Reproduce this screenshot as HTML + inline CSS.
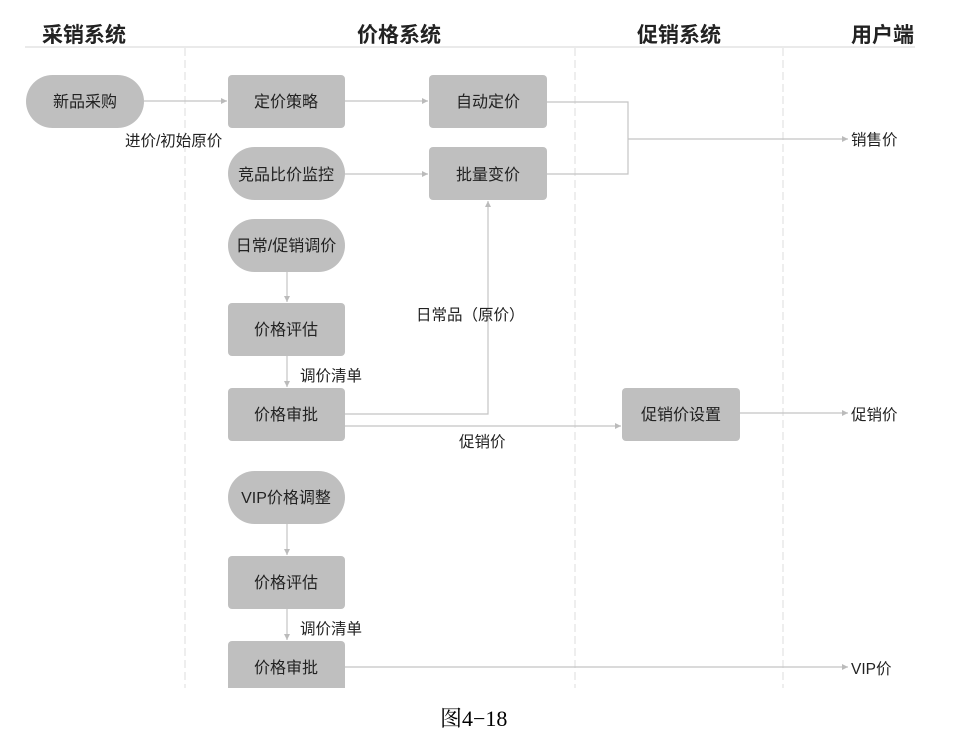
<!DOCTYPE html>
<html><head><meta charset="utf-8"><style>
html,body{margin:0;padding:0;background:#fff;}
svg text{font-family:"Liberation Sans","Noto Sans CJK SC",sans-serif;fill:#222;}
</style></head><body>
<svg width="966" height="735" viewBox="0 0 966 735" xmlns="http://www.w3.org/2000/svg">
<defs><marker id="a" markerWidth="8" markerHeight="8" refX="7" refY="4" orient="auto" markerUnits="userSpaceOnUse"><path d="M1,1 L7,4 L1,7 z" fill="#bbb"/></marker></defs>
<g font-size="21" font-weight="bold" fill="#222">
<text x="42" y="42">采销系统</text>
<text x="357" y="42">价格系统</text>
<text x="637" y="42">促销系统</text>
<text x="851" y="42">用户端</text>
</g>
<line x1="25" y1="47" x2="915" y2="47" stroke="#ddd" stroke-width="1.2"/>
<g stroke="#ddd" stroke-dasharray="8,4" stroke-width="1">
<line x1="185" y1="48" x2="185" y2="688"/>
<line x1="575" y1="48" x2="575" y2="688"/>
<line x1="783" y1="48" x2="783" y2="688"/>
</g>
<g stroke="#c4c4c4" stroke-width="1.2" fill="none">
<line x1="144" y1="101" x2="227" y2="101" marker-end="url(#a)"/>
<line x1="345" y1="101" x2="428" y2="101" marker-end="url(#a)"/>
<line x1="345" y1="174" x2="428" y2="174" marker-end="url(#a)"/>
<polyline points="547,102 628,102 628,174 547,174"/>
<line x1="628" y1="139" x2="848" y2="139" marker-end="url(#a)"/>
<line x1="287" y1="272" x2="287" y2="302" marker-end="url(#a)"/>
<line x1="287" y1="356" x2="287" y2="387" marker-end="url(#a)"/>
<polyline points="345,414 488,414 488,201" marker-end="url(#a)"/>
<line x1="345" y1="426" x2="621" y2="426" marker-end="url(#a)"/>
<line x1="740" y1="413" x2="848" y2="413" marker-end="url(#a)"/>
<line x1="287" y1="524" x2="287" y2="555" marker-end="url(#a)"/>
<line x1="287" y1="609" x2="287" y2="640" marker-end="url(#a)"/>
<line x1="345" y1="667" x2="848" y2="667" marker-end="url(#a)"/>
</g>
<g fill="#bfbfbf">
<rect x="26" y="75" width="118" height="53" rx="26.5"/>
<rect x="228" y="75" width="117" height="53" rx="4"/>
<rect x="429" y="75" width="118" height="53" rx="4"/>
<rect x="228" y="147" width="117" height="53" rx="26.5"/>
<rect x="429" y="147" width="118" height="53" rx="4"/>
<rect x="228" y="219" width="117" height="53" rx="26.5"/>
<rect x="228" y="303" width="117" height="53" rx="4"/>
<rect x="228" y="388" width="117" height="53" rx="4"/>
<rect x="622" y="388" width="118" height="53" rx="4"/>
<rect x="228" y="471" width="117" height="53" rx="26.5"/>
<rect x="228" y="556" width="117" height="53" rx="4"/>
<path d="M228,688 V645 a4,4 0 0 1 4,-4 H341 a4,4 0 0 1 4,4 V688 z"/>
</g>
<rect x="0" y="688" width="966" height="47" fill="#fff"/>
<g font-size="16" text-anchor="middle">
<text x="85" y="107">新品采购</text>
<text x="286" y="107">定价策略</text>
<text x="488" y="107">自动定价</text>
<text x="286" y="180">竞品比价监控</text>
<text x="488" y="180">批量变价</text>
<text x="286" y="251">日常/促销调价</text>
<text x="286" y="335">价格评估</text>
<text x="286" y="420">价格审批</text>
<text x="681" y="420">促销价设置</text>
<text x="286" y="503">VIP价格调整</text>
<text x="286" y="588">价格评估</text>
<text x="286" y="673">价格审批</text>
</g>
<g font-size="15.5">
<text x="125" y="146">进价/初始原价</text>
<text x="851" y="145">销售价</text>
<text x="416" y="320">日常品（原价）</text>
<text x="300" y="381">调价清单</text>
<text x="459" y="447">促销价</text>
<text x="851" y="420">促销价</text>
<text x="300" y="634">调价清单</text>
<text x="851" y="674">VIP价</text>
</g>
<text x="440" y="726" font-size="22" style="font-family:'Liberation Serif','Noto Serif CJK SC',serif;fill:#000">图4−18</text>
</svg>
</body></html>
